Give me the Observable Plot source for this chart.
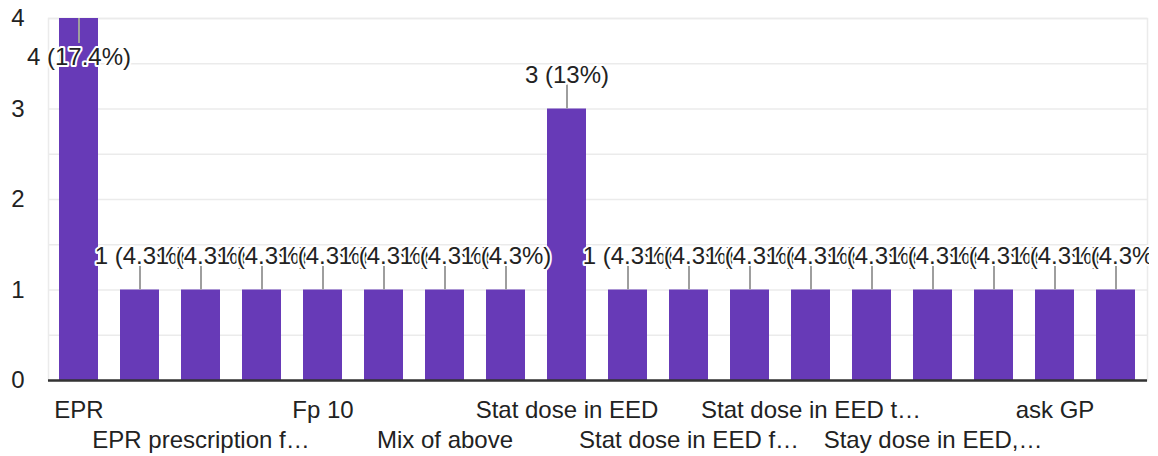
<!DOCTYPE html>
<html><head><meta charset="utf-8">
<script src="https://cdn.jsdelivr.net/npm/d3@7"></script>
<script src="https://cdn.jsdelivr.net/npm/@observablehq/plot@0.6"></script>
<style>
html,body{margin:0;padding:0;background:#fff;}
#chart svg{overflow:hidden;}
</style></head><body><div id="chart"></div>
<script>
// Categories (only every other label is visible in the reference; hidden ones are placeholders)
const categories = ["EPR","option 2","EPR prescription f…","option 4","Fp 10","option 6","Mix of above","option 8","Stat dose in EED","option 10","Stat dose in EED f…","option 12","Stat dose in EED t…","option 14","Stay dose in EED,…","option 16","ask GP","option 18"];
const counts = [4,1,1,1,1,1,1,1,3,1,1,1,1,1,1,1,1,1];
const yTicks = [0,1,2,3,4];
const gridValues = [0,0.5,1,1.5,2,2.5,3,3.5,4];
const labelRow1 = categories.filter((_, i) => i % 4 === 0);
const labelRow2 = categories.filter((_, i) => i % 4 === 2);

const total = d3.sum(counts);
const maxCount = d3.max(counts);
const data = categories.map((c, i) => ({
  cat: c,
  value: counts[i],
  label: `${counts[i]} (${+(counts[i] / total * 100).toFixed(1)}%)`
}));
const above = data.filter(d => d.value < maxCount);
const below = data.filter(d => d.value === maxCount);

const font = "Liberation Sans, Arial, sans-serif";

const chart = Plot.plot({
  width: 1149,
  height: 456,
  marginLeft: 48,
  marginRight: 2,
  marginTop: 18,
  marginBottom: 76,
  style: {fontFamily: font, fontSize: "24px", color: "#222", background: "#fff"},
  x: {domain: categories, paddingInner: 0.36, paddingOuter: 0.18, axis: null},
  y: {domain: [0, 4], axis: null},
  marks: [
    Plot.ruleY(gridValues, {stroke: "#ebebeb", strokeWidth: 1.5}),
    Plot.frame({stroke: "#ebebeb", strokeWidth: 1.5}),
    Plot.barY(data, {x: "cat", y: "value", fill: "#673ab7"}),
    Plot.ruleY([0], {stroke: "#333", strokeWidth: 2.5}),
    Plot.axisY({ticks: yTicks, tickFormat: d => String(d), label: null, tickSize: 0, tickPadding: 24, fontSize: 24, fill: "#222"}),
    Plot.axisX({ticks: labelRow1, label: null, tickSize: 0, tickPadding: 20, fontSize: 24, fill: "#222"}),
    Plot.axisX({ticks: labelRow2, label: null, tickSize: 0, tickPadding: 50, fontSize: 24, fill: "#222"}),
    Plot.ruleX(above, {x: "cat", y1: "value", y2: "value", insetTop: -24, stroke: "#9e9e9e", strokeWidth: 2}),
    Plot.ruleX(below, {x: "cat", y1: "value", y2: "value", insetBottom: -25, stroke: "#9e9e9e", strokeWidth: 2}),
    Plot.text(above, {x: "cat", y: "value", text: "label", fontSize: 24, fill: "#222", stroke: "white", strokeWidth: 4, dy: -34}),
    Plot.text(below, {x: "cat", y: "value", text: "label", fontSize: 24, fill: "#222", stroke: "white", strokeWidth: 4, dy: 39})
  ]
});
document.getElementById("chart").appendChild(chart);
</script>
</body></html>
